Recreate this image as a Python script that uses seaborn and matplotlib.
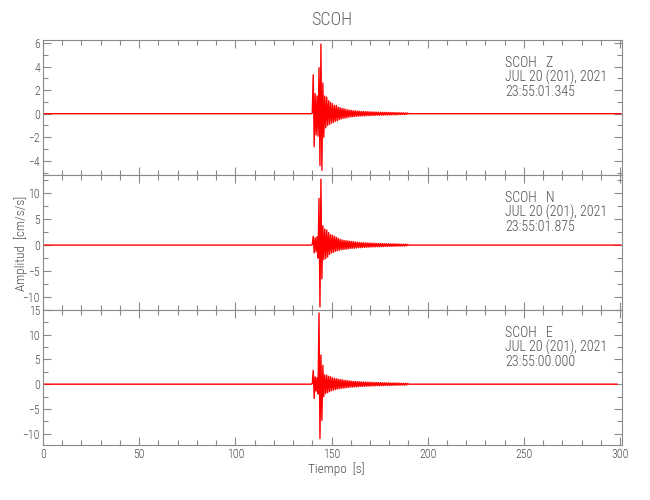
import numpy as np
import pandas as pd
import matplotlib
matplotlib.use('Agg')
import matplotlib.pyplot as plt
from matplotlib.ticker import MultipleLocator
import seaborn as sns

# Station / component info
station = 'SCOH'
components = ['Z', 'N', 'E']
date_label = 'JUL 20 (201), 2021'
start_times = ['23:55:01.345', '23:55:01.875', '23:55:00.000']

# Trace: quiet before and after, event window sampled every 0.5 s from 140 s to 190 s
trace_start = [0.3, 0.3, 0.3]
trace_end = [300.5, 300.5, 298.5]
event_t = np.arange(140.0, 190.01, 0.5)

z_vals = [0.05, 3.3, -2.8, 1.7, -1.8, 1.5, -1.9, 3.9, -4.4, 5.9,
          -4.8, 2.6, -2.0, 1.5, -1.2, 1.4, -1.0, 1.1, -0.9, 0.95,
          -0.8, 0.85, -0.75, 0.7, -0.65, 0.7, -0.6, 0.55, -0.5, 0.5,
          -0.45, 0.45, -0.4, 0.42, -0.38, 0.36, -0.34, 0.33, -0.3, 0.3,
          -0.28, 0.27, -0.26, 0.25, -0.24, 0.24, -0.22, 0.22, -0.21, 0.2,
          -0.2, 0.19, -0.19, 0.18, -0.18, 0.17, -0.17, 0.17, -0.16, 0.16,
          -0.16, 0.15, -0.15, 0.15, -0.14, 0.14, -0.14, 0.13, -0.13, 0.13,
          -0.13, 0.12, -0.12, 0.12, -0.12, 0.11, -0.11, 0.11, -0.11, 0.1,
          -0.1, 0.1, -0.1, 0.1, -0.09, 0.09, -0.09, 0.09, -0.09, 0.08,
          -0.08, 0.08, -0.08, 0.08, -0.07, 0.07, -0.07, 0.07, -0.06, 0.06,
          0.0]
n_vals = [0.1, 1.7, -1.5, 1.4, -1.3, 1.6, -2.5, 9.0, -11.9, 12.7,
          -6.5, 3.7, -2.8, 3.1, -2.6, 2.9, -2.3, 2.4, -1.8, 2.0,
          -1.5, 1.9, -1.4, 1.7, -1.2, 1.5, -1.1, 1.3, -1.0, 1.1,
          -0.9, 1.0, -0.85, 0.9, -0.8, 0.85, -0.75, 0.8, -0.7, 0.75,
          -0.65, 0.7, -0.6, 0.65, -0.6, 0.6, -0.55, 0.55, -0.5, 0.5,
          -0.5, 0.48, -0.46, 0.45, -0.44, 0.43, -0.42, 0.41, -0.4, 0.4,
          -0.38, 0.37, -0.36, 0.35, -0.34, 0.34, -0.33, 0.32, -0.31, 0.31,
          -0.3, 0.3, -0.29, 0.28, -0.28, 0.27, -0.26, 0.26, -0.25, 0.25,
          -0.24, 0.24, -0.23, 0.23, -0.22, 0.22, -0.21, 0.21, -0.2, 0.2,
          -0.2, 0.19, -0.19, 0.18, -0.18, 0.17, -0.17, 0.16, -0.16, 0.15,
          0.0]
e_vals = [0.1, 2.8, -2.9, 1.5, -1.4, 1.3, -2.0, 14.4, -11.0, 5.9,
          -7.3, 3.8, -2.5, 1.9, -1.9, 1.8, -1.7, 1.6, -1.5, 1.5,
          -1.3, 1.3, -1.2, 1.2, -1.1, 1.1, -1.0, 1.0, -0.9, 0.95,
          -0.85, 0.9, -0.8, 0.8, -0.75, 0.75, -0.7, 0.7, -0.65, 0.65,
          -0.6, 0.6, -0.58, 0.56, -0.55, 0.54, -0.52, 0.5, -0.5, 0.48,
          -0.47, 0.46, -0.45, 0.44, -0.43, 0.42, -0.41, 0.4, -0.4, 0.39,
          -0.38, 0.37, -0.36, 0.35, -0.35, 0.34, -0.33, 0.33, -0.32, 0.31,
          -0.3, 0.3, -0.29, 0.29, -0.28, 0.28, -0.27, 0.27, -0.26, 0.26,
          -0.25, 0.25, -0.24, 0.24, -0.23, 0.23, -0.22, 0.22, -0.21, 0.21,
          -0.2, 0.2, -0.2, 0.19, -0.19, 0.18, -0.18, 0.17, -0.17, 0.16,
          0.0]

# Axis ranges and ticks
y_limits = [(-5.2, 6.25), (-12.5, 13.5), (-12.3, 15.0)]
y_major = [2, 5, 5]
y_minor = [1, 2.5, 2.5]

sns.set_theme(style='ticks')
plt.rcParams['font.family'] = ['Roboto Condensed', 'DejaVu Sans']
plt.rcParams['font.weight'] = 'light'

text_col = '#4d4d4d'
frame_col = '#8a8a8a'

fig, axes = plt.subplots(3, 1, figsize=(6.5, 5), dpi=100, sharex=True)
fig.subplots_adjust(left=0.066, right=0.957, top=0.92, bottom=0.11, hspace=0)

for i, (ax, vals) in enumerate(zip(axes, [z_vals, n_vals, e_vals])):
    df = pd.DataFrame({
        't': np.concatenate([[trace_start[i], 139.5], event_t, [trace_end[i]]]),
        'v': np.concatenate([[0.0, 0.0], vals, [0.0]]),
    })
    sns.lineplot(data=df, x='t', y='v', ax=ax, color='#ff0000',
                 linewidth=1.0, estimator=None, sort=False)
    ax.set_xlim(0, 301)
    ax.set_ylim(*y_limits[i])
    ax.set_xlabel('')
    ax.set_ylabel('')
    ax.xaxis.set_major_locator(MultipleLocator(50))
    ax.xaxis.set_minor_locator(MultipleLocator(10))
    ax.yaxis.set_major_locator(MultipleLocator(y_major[i]))
    ax.yaxis.set_minor_locator(MultipleLocator(y_minor[i]))
    ax.tick_params(which='both', direction='in', top=True, right=True,
                   color=frame_col, labelcolor=text_col, labelsize=8.5, width=0.8)
    ax.tick_params(which='major', length=6, pad=2)
    ax.tick_params(which='minor', length=3.5)
    for sp in ax.spines.values():
        sp.set_color(frame_col)
        sp.set_linewidth(0.8)

    lines = [f'{station}   {components[i]}', date_label, start_times[i]]
    for j, line in enumerate(lines):
        ax.text(0.798, 0.83 - j * 0.108, line, transform=ax.transAxes,
                va='center', ha='left', fontsize=10, color=text_col)

axes[2].tick_params(axis='x', pad=2)

fig.text(0.511, 0.96, station, ha='center', va='center', fontsize=13, color='#666666')
fig.text(0.032, 0.514, 'Amplitud  [cm/s/s]', rotation=90, ha='center', va='center',
         fontsize=9.5, color=text_col)
fig.text(0.517, 0.062, 'Tiempo  [s]', ha='center', va='center', fontsize=9.5, color=text_col)

fig.savefig('out.png', dpi=100)
